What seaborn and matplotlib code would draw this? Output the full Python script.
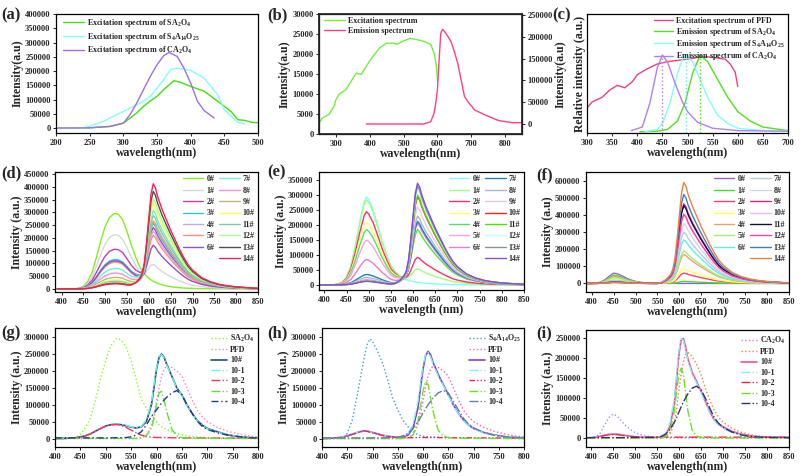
import numpy as np
import matplotlib
matplotlib.use('Agg')
import matplotlib.pyplot as plt
import seaborn as sns
from matplotlib.lines import Line2D

sns.set_theme(style='ticks')
plt.rcParams['font.family'] = ['Liberation Serif', 'DejaVu Serif']
plt.rcParams['font.weight'] = 'bold'
plt.rcParams['axes.labelweight'] = 'bold'
plt.rcParams['mathtext.fontset'] = 'custom'
plt.rcParams['mathtext.rm'] = 'Liberation Serif:bold'
plt.rcParams['mathtext.it'] = 'Liberation Serif:bold'
plt.rcParams['mathtext.bf'] = 'Liberation Serif:bold'

# ---------------- data: panel (a) ----------------
A_WL_SA = [200, 250, 280, 300, 310, 320, 330, 340, 350, 360, 375, 385, 400, 420, 440, 450, 460, 470, 480, 490, 500]
A_SA = [0, 1000, 5000, 17000, 35000, 53000, 76000, 95000, 111000, 135000, 166000, 160000, 146000, 129000, 94000, 76000, 58000, 29000, 27000, 20000, 19000]
A_WL_S4 = [200, 240, 250, 270, 285, 300, 315, 330, 340, 350, 360, 370, 380, 400, 420, 440, 450, 460, 470, 480]
A_S4 = [0, 1000, 6000, 23000, 41000, 58000, 76000, 94000, 111000, 140000, 170000, 205000, 210000, 202000, 175000, 117000, 64000, 41000, 20000, 15000]
A_WL_CA = [200, 250, 280, 300, 310, 320, 330, 340, 350, 360, 368, 380, 390, 400, 410, 420, 435]
A_CA = [0, 500, 6000, 17000, 47000, 88000, 135000, 181000, 222000, 254000, 265000, 251000, 210000, 158000, 94000, 61000, 35000]

# ---------------- data: panel (b) ----------------
B_WL_EX = [250, 260, 280, 295, 300, 310, 330, 345, 360, 375, 390, 410, 430, 450, 470, 480, 500, 520, 545, 565, 580, 590, 597, 600]
B_EX = [2800, 4000, 4900, 7000, 8600, 10000, 11100, 13200, 15200, 14900, 17000, 19500, 21600, 22700, 22700, 22400, 23300, 23900, 23500, 23000, 22400, 20300, 17000, 13200]
B_WL_EM = [390, 560, 580, 590, 595, 600, 605, 610, 615, 625, 640, 650, 660, 670, 680, 690, 710, 740, 780, 820, 850]
B_EM = [0, 0, 5000, 24000, 47000, 78000, 147000, 208000, 217000, 208000, 189000, 166000, 139000, 101000, 63000, 51000, 32000, 21000, 8000, 3000, 3000]

# ---------------- data: panel (c) (relative) ----------------
C_WL_PFD = [300, 310, 330, 345, 360, 375, 390, 400, 420, 440, 460, 480, 500, 520, 540, 560, 575, 585, 595, 600]
C_PFD = [0.21, 0.26, 0.30, 0.36, 0.40, 0.38, 0.43, 0.49, 0.54, 0.58, 0.60, 0.61, 0.62, 0.635, 0.64, 0.63, 0.62, 0.58, 0.51, 0.39]
C_WL_SA = [405, 440, 460, 480, 495, 510, 525, 540, 560, 580, 600, 625, 650, 700]
C_SA = [0.01, 0.015, 0.03, 0.1, 0.25, 0.5, 0.655, 0.6, 0.45, 0.3, 0.18, 0.1, 0.05, 0.02]
C_WL_S4 = [415, 440, 450, 465, 480, 490, 497, 510, 525, 540, 560, 580, 600, 650, 700]
C_S4 = [0.01, 0.03, 0.08, 0.25, 0.5, 0.62, 0.655, 0.6, 0.45, 0.3, 0.15, 0.08, 0.04, 0.02, 0.015]
C_WL_CA = [388, 410, 425, 440, 450, 460, 475, 490, 500, 520, 550, 600, 700]
C_CA = [0.02, 0.05, 0.25, 0.55, 0.655, 0.6, 0.42, 0.26, 0.18, 0.09, 0.04, 0.02, 0.015]
C_PEAKS = [450, 497, 525]

# ---------------- data: panels (d)(e)(f) ----------------
WL_DEF = [390, 400, 410, 420, 430, 440, 450, 460, 470, 480,
          490, 495, 500, 510, 520, 525, 530, 540, 550, 560,
          570, 580, 585, 590, 595, 600, 605, 610, 615, 620,
          630, 640, 650, 660, 670, 680, 690, 700, 720, 740,
          760, 780, 800, 850]
BAND_SA = [0, 0, 0, 0, 0.003, 0.01, 0.035, 0.1, 0.22, 0.42,
           0.64, 0.74, 0.83, 0.95, 1.0, 1.0, 0.99, 0.92, 0.76, 0.58,
           0.42, 0.28, 0.24, 0.2, 0.17, 0.14, 0.12, 0.1, 0.088, 0.075,
           0.055, 0.04, 0.03, 0.022, 0.016, 0.012, 0.009, 0.007, 0.004, 0.003,
           0.002, 0.001, 0, 0]
BAND_S4 = [0, 0, 0, 0, 0.01, 0.03, 0.09, 0.22, 0.45, 0.72,
           0.95, 1.0, 0.97, 0.85, 0.68, 0.59, 0.5, 0.35, 0.22, 0.15,
           0.1, 0.07, 0.06, 0.05, 0.045, 0.04, 0.035, 0.03, 0.027, 0.024,
           0.018, 0.014, 0.011, 0.009, 0.007, 0.005, 0.004, 0.003, 0.002, 0.001,
           0, 0, 0, 0]
BAND_CA = [0, 0.005, 0.03, 0.12, 0.35, 0.7, 1.0, 0.92, 0.72, 0.5,
           0.33, 0.26, 0.2, 0.12, 0.07, 0.055, 0.04, 0.025, 0.015, 0.01,
           0.007, 0.005, 0.004, 0.003, 0.002, 0.002, 0.001, 0.001, 0, 0,
           0, 0, 0, 0, 0, 0, 0, 0, 0, 0,
           0, 0, 0, 0]
BAND_RED = [0, 0, 0, 0, 0, 0, 0, 0, 0, 0,
            0, 0, 0, 0, 0, 0, 0, 0, 0, 0.01,
            0.04, 0.09, 0.14, 0.25, 0.45, 0.68, 0.9, 1.0, 0.96, 0.88,
            0.76, 0.66, 0.56, 0.47, 0.38, 0.3, 0.23, 0.18, 0.11, 0.07,
            0.045, 0.03, 0.02, 0.005]

SAMPLES = ['0#', '1#', '2#', '3#', '4#', '5#', '6#', '7#', '8#', '9#', '10#', '11#', '12#', '13#', '14#']
D_GREEN = [295000, 212000, 155000, 115000, 108000, 105000, 110000, 80000, 62000, 45000, 35000, 30000, 25000, 22000, 20000]
D_RED = [0, 75000, 225000, 245000, 215000, 200000, 160000, 300000, 260000, 262000, 330000, 285000, 350000, 380000, 410000]
D_COLORS = ['#80f020', '#d8d8d8', '#c040b0', '#30c8c8', '#c8a8f0', '#ff9080', '#9050d0', '#70f0d0',
            '#ff90d0', '#b8b880', '#ffff50', '#80c8b0', '#a8ff90', '#505050', '#ff2050']
E_BLUE = [295000, 285000, 245000, 210000, 185000, 150000, 85000, 35000, 25000, 20000, 15000, 15000, 14000, 13000, 12000]
E_RED = [0, 45000, 85000, 175000, 180000, 200000, 205000, 212000, 230000, 260000, 295000, 300000, 320000, 330000, 340000]
E_COLORS = ['#80ffff', '#a0ff80', '#ff3060', '#ffff60', '#50e070', '#ffa0e0', '#e080d0', '#2080c0',
            '#a8b8d8', '#e8c8e8', '#ff2020', '#50e000', '#c0ffff', '#8890a0', '#8050d0']
F_VIOLET = [60000, 48000, 38000, 30000, 42000, 35000, 20000, 15000, 12000, 10000, 10000, 8000, 8000, 6000, 5000]
F_RED = [0, 12000, 60000, 85000, 170000, 190000, 255000, 300000, 350000, 465000, 400000, 455000, 405000, 520000, 590000]
F_COLORS = ['#9060e0', '#40e020', '#ff4070', '#ffff60', '#f0a070', '#a0f070', '#60f0e0', '#b8c8e8',
            '#d0d8e8', '#e02090', '#ffb0e8', '#101040', '#ff40a0', '#4080c0', '#f08040']

# ---------------- data: panel (g) ----------------
WL_G = [400, 420, 440, 450, 460, 470, 480, 490, 500, 510, 520, 525, 530, 540, 550, 560, 570, 580, 590, 595,
        600, 605, 610, 615, 620, 630, 640, 650, 660, 670, 680, 690, 700, 720, 740, 760, 780, 800]
G_SA = [0, 0, 3000, 12000, 32000, 62000, 115000, 180000, 230000, 275000, 295000, 295000, 292000, 271000, 230000, 175000, 115000, 92000, 68000, 58000,
        48000, 41000, 35000, 31000, 27000, 20000, 15000, 11000, 8000, 6000, 4500, 3500, 2700, 1600, 1000, 600, 300, 0]
G_PFD = [0, 0, 0, 0, 0, 0, 0, 0, 0, 0, 0, 0, 0, 0, 0, 0, 3000, 10000, 40000, 70000,
         110000, 150000, 185000, 205000, 215000, 210000, 200000, 185000, 150000, 115000, 84000, 65000, 50000, 33000, 22000, 14000, 8000, 5000]
G_10 = [0, 500, 2000, 5000, 8000, 14000, 22000, 30000, 37000, 41000, 42000, 42000, 41000, 38000, 34000, 31000, 35000, 50000, 100000, 150000,
        205000, 240000, 250000, 240000, 220000, 185000, 150000, 129000, 99000, 75000, 54000, 40000, 30000, 20000, 11000, 6000, 3000, 1500]
G_101 = [0, 500, 2000, 5000, 8000, 14000, 22000, 31000, 38000, 42000, 43000, 43000, 42000, 39000, 35000, 31000, 36000, 55000, 105000, 158000,
         210000, 243000, 248000, 238000, 218000, 183000, 150000, 128000, 98000, 74000, 53000, 39000, 29000, 19000, 11000, 6000, 3000, 1500]
G_102 = [0, 500, 2000, 5000, 8000, 14000, 22000, 30000, 37000, 41000, 42000, 41000, 39000, 33000, 25000, 17000, 10000, 6000, 4000, 3500,
         3000, 3000, 2800, 2700, 2500, 2300, 2200, 2000, 1900, 1800, 1700, 1600, 1500, 1300, 1200, 1100, 1000, 1000]
G_103 = [500, 500, 500, 500, 500, 500, 500, 500, 500, 500, 500, 500, 500, 500, 500, 500, 2000, 8000, 30000, 60000,
         100000, 135000, 140000, 115000, 80000, 28000, 8000, 3000, 1000, 800, 600, 500, 500, 400, 300, 200, 100, 0]
G_104 = [2000, 2000, 2000, 2000, 2000, 2000, 2000, 2000, 2000, 2200, 2400, 2500, 2600, 3000, 5000, 10000, 20000, 40000, 65000, 75000,
         85000, 95000, 105000, 114000, 122000, 135000, 142000, 130000, 100000, 75000, 52000, 36000, 27000, 17000, 10000, 6000, 3000, 1500]

# ---------------- data: panel (h) ----------------
WL_H = [400, 420, 440, 450, 460, 470, 480, 485, 490, 495, 500, 510, 520, 530, 540, 550, 560, 570, 580, 590,
        595, 600, 605, 610, 615, 620, 630, 640, 650, 660, 670, 680, 690, 700, 720, 740, 760, 780, 800]
H_S4 = [0, 0, 2000, 15000, 55000, 130000, 212000, 250000, 280000, 295000, 288000, 258000, 223000, 174000, 120000, 85000, 55000, 35000, 21000, 11000,
        9000, 7000, 6000, 5500, 5000, 4500, 4000, 3500, 3000, 2800, 2500, 2200, 2000, 1800, 1400, 1000, 700, 400, 200]
H_PFD = [0, 0, 0, 0, 0, 0, 0, 0, 0, 0, 0, 0, 0, 0, 0, 0, 0, 3000, 10000, 40000,
         70000, 110000, 150000, 185000, 205000, 215000, 210000, 200000, 185000, 150000, 115000, 84000, 65000, 50000, 33000, 22000, 14000, 8000, 5000]
H_10 = [0, 1000, 4000, 8000, 13000, 18000, 22000, 23000, 22000, 20000, 18000, 14000, 10000, 7000, 5000, 4000, 5000, 10000, 30000, 90000,
        150000, 205000, 245000, 258000, 248000, 225000, 190000, 160000, 130000, 100000, 75000, 55000, 40000, 30000, 18000, 11000, 6000, 3500, 2000]
H_101 = [0, 1000, 4000, 8000, 13000, 18000, 22000, 23000, 22000, 20000, 18000, 14000, 10000, 7000, 5000, 4000, 6000, 14000, 40000, 110000,
         165000, 215000, 248000, 255000, 242000, 220000, 185000, 157000, 128000, 99000, 74000, 54000, 39000, 29000, 17000, 10000, 6000, 3500, 2000]
H_102 = [0, 1000, 3000, 7000, 12000, 17000, 21000, 22000, 21000, 19000, 17000, 13000, 9000, 6000, 4000, 3000, 2500, 2500, 2500, 3000,
         3000, 3000, 3000, 3000, 3000, 3000, 2800, 2600, 2500, 2400, 2300, 2200, 2100, 2000, 1800, 1600, 1400, 1200, 1000]
H_103 = [0, 0, 0, 0, 0, 0, 0, 0, 0, 0, 0, 0, 0, 0, 0, 0, 0, 2000, 10000, 50000,
         95000, 140000, 168000, 160000, 120000, 80000, 25000, 8000, 3000, 1500, 1000, 800, 600, 500, 300, 200, 100, 0, 0]
H_104 = [2000, 2000, 2000, 2000, 2000, 2000, 2000, 2000, 2000, 2000, 2000, 2200, 2300, 2400, 2500, 4000, 8000, 15000, 30000, 50000,
         62000, 75000, 88000, 100000, 110000, 120000, 135000, 142000, 135000, 110000, 85000, 60000, 43000, 32000, 18000, 10000, 6000, 3000, 2000]

# ---------------- data: panel (i) ----------------
WL_I = [390, 400, 410, 420, 430, 440, 450, 460, 470, 480, 490, 500, 510, 520, 530, 540, 550, 560, 570, 580,
        590, 595, 600, 605, 610, 615, 620, 630, 640, 650, 660, 670, 680, 690, 700, 720, 740, 760, 780, 800, 850]
I_CA = [0, 0, 2000, 10000, 30000, 50000, 60000, 55000, 42000, 30000, 21000, 14000, 9000, 6000, 4000, 2500, 1500, 1000, 500, 0,
        0, 0, 0, 0, 0, 0, 0, 0, 0, 0, 0, 0, 0, 0, 0, 0, 0, 0, 0, 0, 0]
I_PFD = [0, 0, 0, 0, 0, 0, 0, 0, 0, 0, 0, 0, 0, 0, 0, 0, 0, 0, 3000, 10000,
         40000, 75000, 120000, 160000, 190000, 210000, 215000, 205000, 185000, 160000, 125000, 95000, 70000, 52000, 40000, 24000, 15000, 9000, 5000, 3000, 1000]
I_10 = [0, 500, 1500, 4000, 7000, 9000, 10000, 9500, 8000, 6000, 4500, 3000, 2000, 1500, 1000, 1000, 1500, 3000, 8000, 30000,
        90000, 150000, 210000, 245000, 250000, 230000, 200000, 165000, 142000, 118000, 92000, 66000, 46000, 35000, 28000, 17000, 10000, 6000, 3500, 2000, 1000]
I_101 = [0, 500, 1500, 4000, 7000, 9000, 10000, 9500, 8000, 6000, 4500, 3000, 2000, 1500, 1000, 1000, 2000, 4000, 12000, 40000,
         100000, 165000, 220000, 250000, 245000, 222000, 195000, 160000, 138000, 114000, 88000, 63000, 44000, 32000, 24000, 14000, 8000, 5000, 3000, 1800, 1000]
I_102 = [0, 500, 1500, 3500, 6000, 8000, 9000, 8500, 7000, 5500, 4000, 3000, 2500, 2000, 2000, 2000, 2000, 2000, 2000, 2000,
         2000, 2000, 2000, 2000, 2000, 2000, 2000, 2000, 2000, 2000, 2000, 2000, 2000, 2000, 2000, 2000, 2000, 2000, 2000, 2000, 2000]
I_103 = [0, 0, 0, 0, 0, 0, 0, 0, 0, 0, 0, 0, 0, 0, 0, 0, 0, 0, 3000, 15000,
         70000, 120000, 160000, 175000, 160000, 115000, 70000, 20000, 5000, 1500, 500, 300, 200, 100, 0, 0, 0, 0, 0, 0, 0]
I_104 = [1000, 1000, 1000, 1000, 1000, 1000, 1000, 1000, 1000, 1000, 1200, 1300, 1400, 1500, 1600, 1800, 2000, 4000, 10000, 22000,
         40000, 52000, 65000, 78000, 90000, 100000, 110000, 125000, 130000, 122000, 100000, 75000, 52000, 37000, 27000, 15000, 8000, 4000, 2500, 1500, 1000]

W, H = 800, 476
fig = plt.figure(figsize=(W / 100, H / 100), dpi=100)


def add_ax(l, r, t, b):
    return fig.add_axes([l / W, 1 - b / H, (r - l) / W, (b - t) / H])


TICK_FS = 6
LAB_FS = 8.5
LEG_FS = 5.8


def style(ax, xlim, ylim, xticks, yticks, xlabel, ylabel):
    ax.set_xlim(*xlim)
    ax.set_ylim(*ylim)
    ax.set_xticks(xticks)
    if yticks is None:
        ax.set_yticks([])
    else:
        ax.set_yticks(yticks)
        ax.set_yticklabels([str(v) for v in yticks])
    ax.set_xticklabels([str(v) for v in xticks])
    ax.tick_params(labelsize=TICK_FS, length=2.5, width=0.7, direction='out', pad=1.5)
    ax.set_xlabel(xlabel, fontsize=LAB_FS, labelpad=0)
    ax.set_ylabel(ylabel, fontsize=LAB_FS, labelpad=1)
    for s in ax.spines.values():
        s.set_linewidth(0.9)
        s.set_color('black')
        s.set_visible(True)
    for lab in ax.get_xticklabels() + ax.get_yticklabels():
        lab.set_fontweight('bold')


def line(ax, x, y, color, label=None, ls='-', lw=1.0):
    sns.lineplot(x=np.asarray(x, float), y=np.asarray(y, float), ax=ax, color=color,
                 linestyle=ls, linewidth=lw, label=label, legend=False)


def panel_label(s, x, y):
    fig.text(x / W, 1 - y / H, s, fontsize=12, fontweight='bold', va='center', ha='left')


def leg(ax, **kw):
    opts = dict(frameon=False, fontsize=LEG_FS, handlelength=2.6, handletextpad=0.4,
                labelspacing=0.2, borderaxespad=0.2, borderpad=0.2)
    opts.update(kw)
    return ax.legend(**opts)


# ---------------- (a) ----------------
ax = add_ax(56, 258, 14, 133)
line(ax, A_WL_SA, A_SA, '#40e010', 'Excitation spectrum of SA$_2$O$_4$')
line(ax, A_WL_S4, A_S4, '#80fff8', 'Excitation spectrum of S$_4$A$_{14}$O$_{25}$')
line(ax, A_WL_CA, A_CA, '#a070e0', 'Excitation spectrum of CA$_2$O$_4$')
style(ax, (200, 500), (-17500, 400000), list(range(200, 501, 50)), list(range(0, 400001, 50000)),
      'wavelength(nm)', 'Intensity(a.u)')
leg(ax, loc='upper left', bbox_to_anchor=(0.02, 1.0))
panel_label('(a)', 1, 15)

# ---------------- (b) ----------------
ax = add_ax(319, 522, 14, 134)
line(ax, B_WL_EX, B_EX, '#70f040', 'Excitation spectrum')
ax2 = ax.twinx()
line(ax2, B_WL_EM, B_EM, '#ff4080', 'Emission spectrum')
style(ax, (250, 850), (0, 30000), list(range(300, 801, 100)), list(range(0, 30001, 5000)),
      'wavelength(nm)', 'Intensity(a.u)')
ax2.set_ylim(-23000, 252000)
ax2.set_yticks(list(range(0, 250001, 50000)))
ax2.set_yticklabels([str(v) for v in range(0, 250001, 50000)])
ax2.tick_params(labelsize=TICK_FS, length=2.5, width=0.7, direction='out', pad=1.5)
ax2.set_ylabel('Intensity(a.u)', fontsize=LAB_FS, labelpad=1)
for lab in ax2.get_yticklabels():
    lab.set_fontweight('bold')
h1, l1 = ax.get_legend_handles_labels()
h2, l2 = ax2.get_legend_handles_labels()
leg(ax, handles=h1 + h2, labels=l1 + l2, loc='upper left', bbox_to_anchor=(0.01, 1.0))
panel_label('(b)', 267, 15)

# ---------------- (c) ----------------
ax = add_ax(587, 788, 14, 133)
line(ax, C_WL_PFD, C_PFD, '#f04080', 'Excitation spectrum of PFD')
line(ax, C_WL_SA, C_SA, '#50e020', 'Emission spectrum of SA$_2$O$_4$')
line(ax, C_WL_S4, C_S4, '#80fff8', 'Emission spectrum of S$_4$A$_{14}$O$_{25}$')
line(ax, C_WL_CA, C_CA, '#b080f0', 'Emission spectrum of CA$_2$O$_4$')
for pk, col in zip(C_PEAKS, ['#b080f0', '#60e8e0', '#50e020']):
    ax.axvline(pk, ymin=0, ymax=0.655, color=col, linestyle=':', linewidth=1.0)
style(ax, (300, 700), (0, 1), list(range(300, 701, 50)), None,
      'wavelength(nm)', 'Relative intensity (a.u.)')
leg(ax, loc='upper right', bbox_to_anchor=(1.0, 1.0), handlelength=2.3, labelspacing=0.05)
panel_label('(c)', 552, 15)


# ---------------- (d)(e)(f) ----------------
def series_panel(ax, band, amps_band, amps_red, colors):
    b = np.asarray(band, float)
    r = np.asarray(BAND_RED, float)
    for name, a1, a2, c in zip(SAMPLES, amps_band, amps_red, colors):
        line(ax, WL_DEF, a1 * b + a2 * r, c, name)
    hs, ls = ax.get_legend_handles_labels()
    hs = hs[:7] + [Line2D([], [], color='none')] + hs[7:]
    ls = ls[:7] + [''] + ls[7:]
    leg(ax, handles=hs, labels=ls, ncol=2, loc='upper right', bbox_to_anchor=(1.0, 1.0),
        handlelength=2.5, columnspacing=0.6, labelspacing=0.42)


ax = add_ax(55, 258, 172, 292)
series_panel(ax, BAND_SA, D_GREEN, D_RED, D_COLORS)
style(ax, (385, 850), (-12000, 458000), list(range(400, 851, 50)), list(range(0, 450001, 50000)),
      'wavelength(nm)', 'Intensity (a.u.)')
panel_label('(d)', 1, 173)

ax = add_ax(319, 524, 172, 290)
series_panel(ax, BAND_S4, E_BLUE, E_RED, E_COLORS)
style(ax, (388, 850), (-17000, 378000), list(range(400, 851, 50)), list(range(0, 350001, 50000)),
      'wavelength (nm)', 'Intensity (a.u.)')
panel_label('(e)', 267, 172)

ax = add_ax(586, 789, 172, 292)
series_panel(ax, BAND_CA, F_VIOLET, F_RED, F_COLORS)
style(ax, (387, 850), (-50000, 651000), list(range(400, 851, 50)), list(range(0, 600001, 100000)),
      'wavelength(nm)', 'Intensity (a.u)')
panel_label('(f)', 536, 175)

# ---------------- (g) ----------------
ax = add_ax(55, 258, 328, 447)
line(ax, WL_G, G_SA, '#80ff20', 'SA$_2$O$_4$', ':')
line(ax, WL_G, G_PFD, '#ff80c0', 'PFD', ':')
line(ax, WL_G, G_10, '#2b4a80', '10#', '-', 1.2)
line(ax, WL_G, G_101, '#70f0f0', '10-1', '-.')
line(ax, WL_G, G_102, '#ff3050', '10-2', '-.')
line(ax, WL_G, G_103, '#60e040', '10-3', '-.')
line(ax, WL_G, G_104, '#253c7a', '10-4', (0, (5, 2, 1, 2)))
style(ax, (400, 800), (-25000, 327000), list(range(400, 801, 50)), list(range(0, 300001, 50000)),
      'wavelength(nm)', 'Intensity (a.u.)')
leg(ax, loc='upper right', bbox_to_anchor=(1.0, 0.99), handlelength=2.0, labelspacing=0.3)
panel_label('(g)', 1, 333)

# ---------------- (h) ----------------
ax = add_ax(322, 524, 328, 447)
line(ax, WL_H, H_S4, '#40a0c8', 'S$_4$A$_{14}$O$_{25}$', ':')
line(ax, WL_H, H_PFD, '#ff60b0', 'PFD', ':')
line(ax, WL_H, H_10, '#8040d0', '10#', '-', 1.2)
line(ax, WL_H, H_101, '#80f0f0', '10-1', '-.')
line(ax, WL_H, H_102, '#ff2050', '10-2', (0, (4, 1.5, 1, 1.5, 1, 1.5)))
line(ax, WL_H, H_103, '#70e020', '10-3', '-.')
line(ax, WL_H, H_104, '#6080a0', '10-4', '-.')
style(ax, (400, 800), (-25000, 327000), list(range(400, 801, 50)), list(range(0, 300001, 50000)),
      'wavelength(nm)', 'Intensity (a.u.)')
leg(ax, loc='upper right', bbox_to_anchor=(1.0, 0.99), handlelength=2.0, labelspacing=0.3)
panel_label('(h)', 267, 333)

# ---------------- (i) ----------------
ax = add_ax(586, 789, 330, 447)
line(ax, WL_I, I_CA, '#c080f0', 'CA$_2$O$_4$', ':')
line(ax, WL_I, I_PFD, '#f08040', 'PFD', ':')
line(ax, WL_I, I_10, '#f050a0', '10#', '-', 1.2)
line(ax, WL_I, I_101, '#80f0f0', '10-1', '-.')
line(ax, WL_I, I_102, '#ff2040', '10-2', '-.')
line(ax, WL_I, I_103, '#70e020', '10-3', '-.')
line(ax, WL_I, I_104, '#303080', '10-4', '-.')
style(ax, (389, 850), (-22600, 271000), list(range(400, 851, 50)), list(range(0, 250001, 50000)),
      'wavelength(nm)', 'Intensity (a.u.)')
leg(ax, loc='upper right', bbox_to_anchor=(1.0, 0.99), handlelength=2.0, labelspacing=0.3)
panel_label('(i)', 536, 333)

fig.savefig('out.png', dpi=100)
